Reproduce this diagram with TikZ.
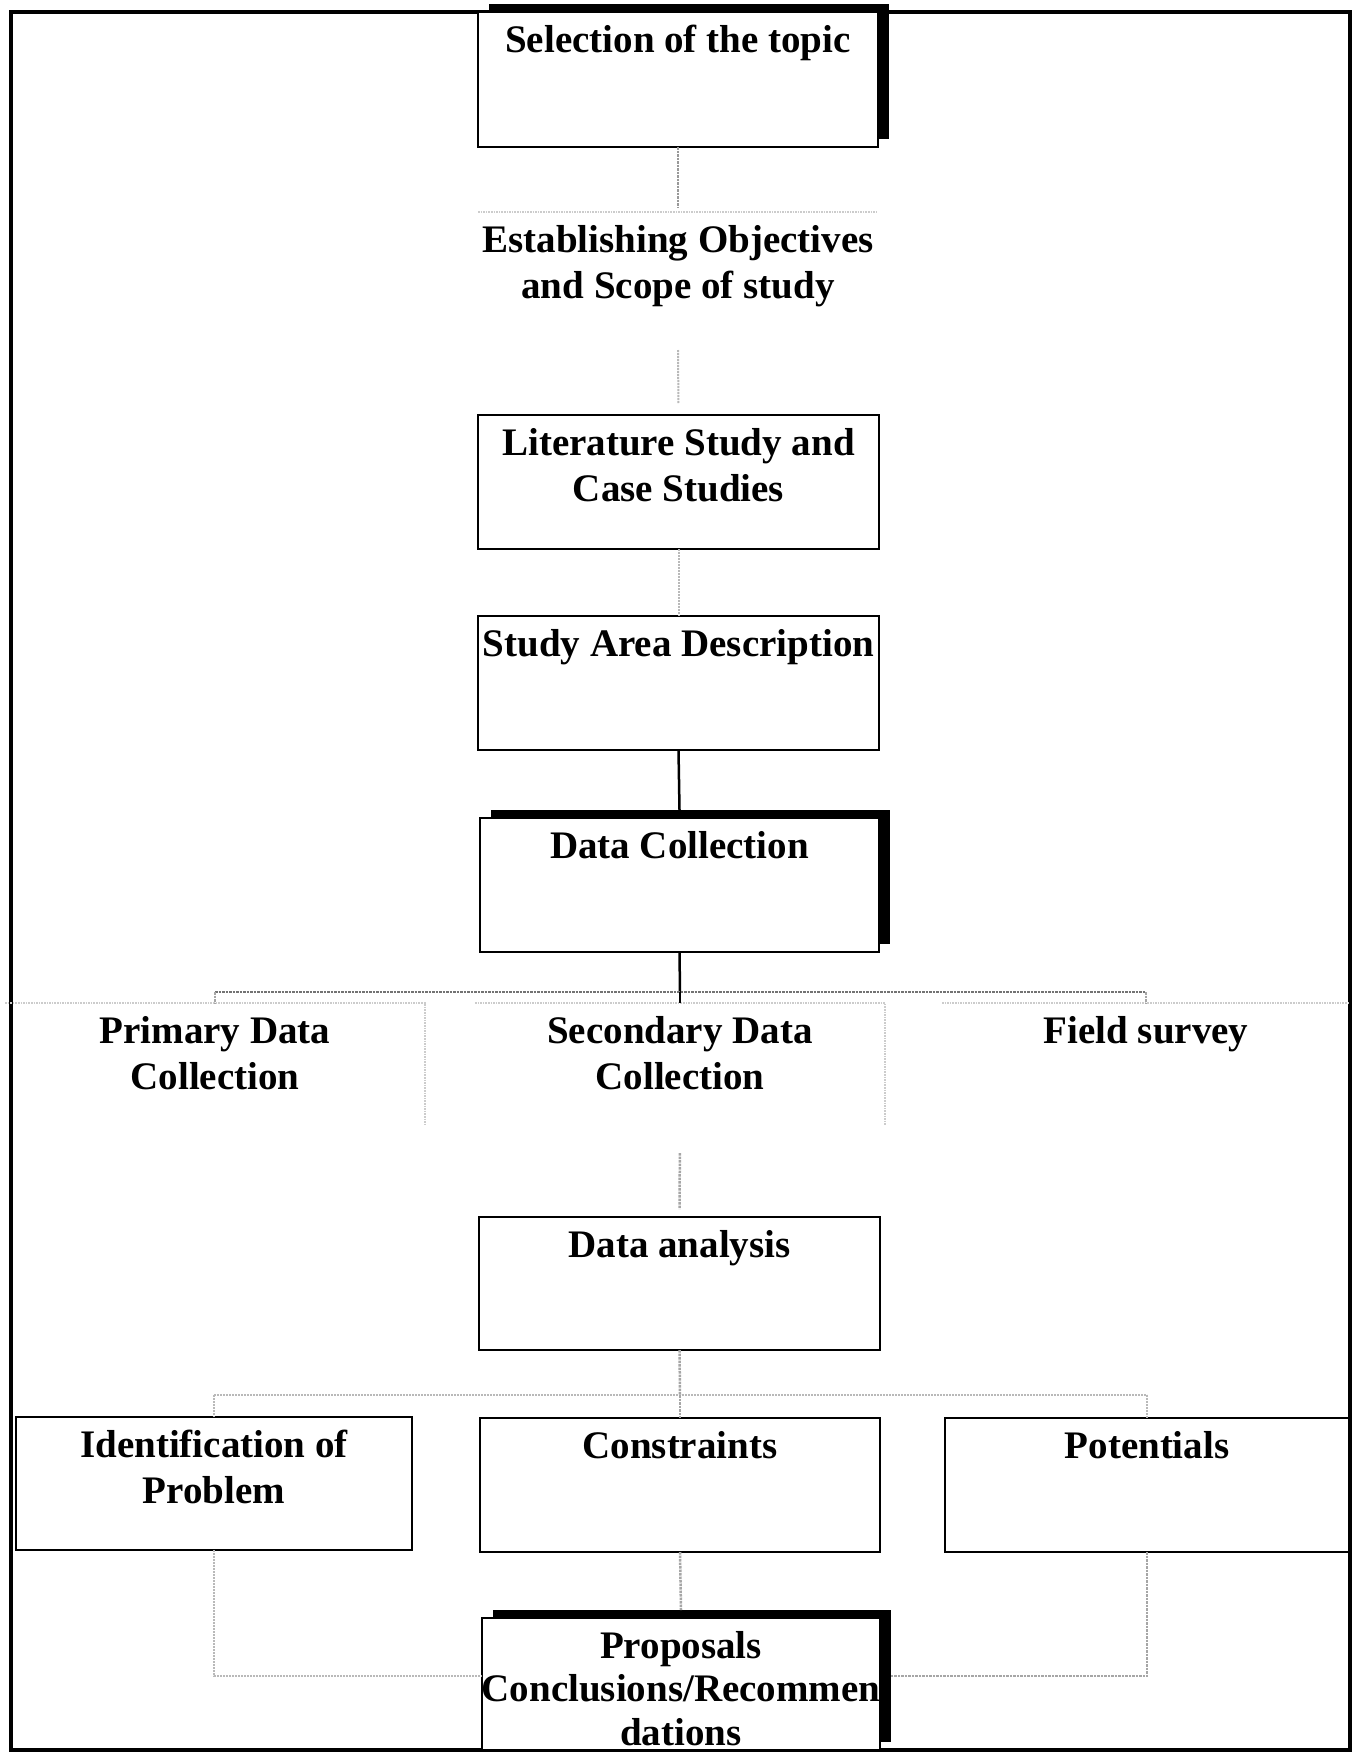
\documentclass[tikz,border=0pt]{standalone}
\usepackage{fontspec}
\setmainfont{Liberation Serif}
\usetikzlibrary{shadows}
\begin{document}
\begin{tikzpicture}[x=1pt,y=-1pt,
 box/.style={draw=black, line width=2.5pt, fill=white, anchor=north west, inner sep=0pt, outer sep=0pt},
 shbox/.style={box, drop shadow={fill=black, opacity=1, shadow xshift=11pt, shadow yshift=8pt}},
 ghost/.style={draw=none, anchor=north west, inner sep=0pt, outer sep=0pt},
 txt/.style={anchor=north, inner sep=0pt, align=center, font=\fontsize{39}{46}\selectfont\bfseries},
 darkc/.style={line width=2.5pt, black},
 grayc/.style={line width=2.5pt, gray!70, densely dotted},
 lightc/.style={line width=2pt, gray!55, densely dotted},
 faint/.style={line width=1.6pt, gray!40, densely dotted}]
\useasboundingbox (0,0) rectangle (1360,1753);
% outer frame
\draw[line width=4pt] (11,12) rectangle (1350,1750);

% boxes
\node[shbox, minimum width=400pt, minimum height=135pt] (sel) at (478,12) {};
\node[txt] (selT) at ([yshift=-13pt]sel.north) {Selection of the topic};

\node[ghost, minimum width=400pt, minimum height=134pt] (est) at (478,212) {};
\draw[faint] (est.north west) -- (est.north east);
\node[txt] (estT) at ([yshift=-13pt]est.north) {Establishing Objectives\\and Scope of study};

\node[box, minimum width=401pt, minimum height=134pt] (lit) at (478,415) {};
\node[txt] (litT) at ([yshift=-13pt]lit.north) {Literature Study and\\Case Studies};

\node[box, minimum width=401pt, minimum height=134pt] (study) at (478,616) {};
\node[txt] (studyT) at ([yshift=-13pt]study.north) {Study Area Description};

\node[shbox, minimum width=399pt, minimum height=134pt] (dc) at (480,818) {};
\node[txt] (dcT) at ([yshift=-13pt]dc.north) {Data Collection};

\node[ghost, minimum width=420pt, minimum height=122pt] (prim) at (5,1003) {};
\node[ghost, minimum width=410pt, minimum height=122pt] (sec) at (475,1003) {};
\node[ghost, minimum width=408pt, minimum height=122pt] (field) at (942,1003) {};
\draw[faint] (prim.north west) -- (prim.north east) -- (prim.south east);
\draw[faint] (sec.north west) -- (sec.north east) -- (sec.south east);
\draw[faint] (field.north west) -- (field.north east);
\node[txt] (primT) at ([yshift=-13pt]prim.north) {Primary Data\\Collection};
\node[txt] (secT) at ([yshift=-13pt]sec.north) {Secondary Data\\Collection};
\node[txt] (fieldT) at ([yshift=-13pt]field.north) {Field survey};

\node[box, minimum width=401pt, minimum height=133pt] (ana) at (479,1217) {};
\node[txt] (anaT) at ([yshift=-13pt]ana.north) {Data analysis};

\node[box, minimum width=396pt, minimum height=133pt] (iden) at (16,1417) {};
\node[txt] (idenT) at ([yshift=-13pt]iden.north) {Identification of\\Problem};
\node[box, minimum width=400pt, minimum height=134pt] (cons) at (480,1418) {};
\node[txt] (consT) at ([yshift=-13pt]cons.north) {Constraints};
\node[box, minimum width=404pt, minimum height=134pt] (pot) at (945,1418) {};
\node[txt] (potT) at ([yshift=-13pt]pot.north) {Potentials};

\node[shbox, minimum width=398pt, minimum height=132pt] (prop) at (482,1618) {};
\node[txt, font=\fontsize{39}{43.5}\selectfont\bfseries] (propT) at ([yshift=-13pt]prop.north) {Proposals\\Conclusions/Recommen\\dations};

% connectors
\draw[grayc, gray!80] (sel.south) -- ([yshift=5pt]est.north);
\draw[lightc, shorten <=4pt, shorten >=12pt] (est.south) -- (lit.north);
\draw[lightc] (lit.south) -- (study.north);
\draw[darkc] (study.south) -- ([yshift=8pt]dc.north);
\coordinate (b1) at (680,992);
\draw[darkc] (dc.south) -- (b1);
\draw[grayc, black!55] (prim.north |- b1) -- (field.north |- b1);
\draw[grayc] (prim.north |- b1) -- (prim.north);
\draw[darkc, line width=2pt] (b1) -- (sec.north);
\draw[grayc] (field.north |- b1) -- (field.north);
\draw[grayc, shorten <=28pt, shorten >=8pt] (sec.south) -- (ana.north);
\coordinate (b2) at (680,1395);
\draw[grayc] (ana.south) -- (b2);
\draw[lightc] (iden.north |- b2) -- (pot.north |- b2);
\draw[lightc] (iden.north |- b2) -- (iden.north);
\draw[grayc] (b2) -- (cons.north);
\draw[lightc] (pot.north |- b2) -- (pot.north);
\draw[grayc] (cons.south) -- ([yshift=8pt]prop.north);
\draw[lightc] (iden.south) |- ([yshift=8pt]prop.west);
\draw[grayc] (pot.south) |- ([xshift=11pt,yshift=8pt]prop.east);
\end{tikzpicture}
\end{document}
